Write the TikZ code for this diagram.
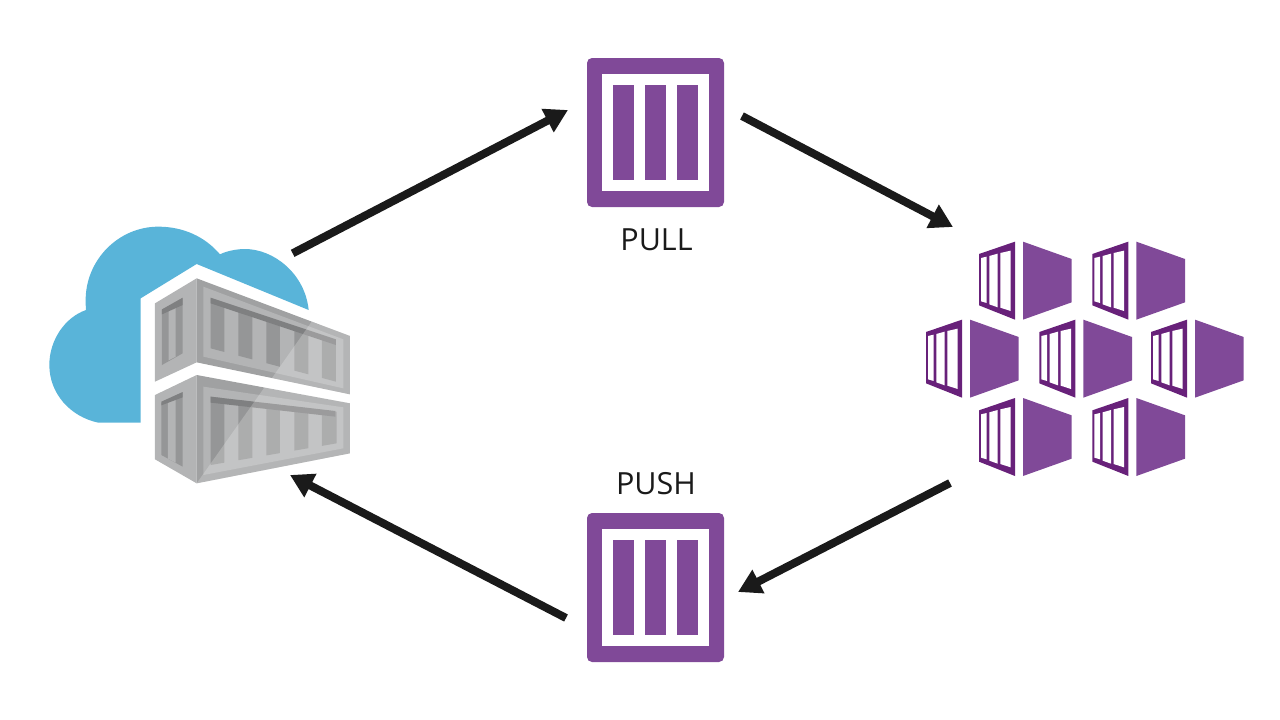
\documentclass[tikz,border=0pt]{standalone}
\usepackage{fontspec}
\setmainfont{Open Sans}
\usetikzlibrary{arrows.meta}
\definecolor{iconpurple}{HTML}{804998}
\definecolor{darkpurple}{HTML}{68217A}
\definecolor{cloudblue}{HTML}{59B4D9}
\definecolor{arrowblack}{HTML}{1A1A1A}
\definecolor{greyA}{HTML}{A0A1A2}
\definecolor{greyB}{HTML}{B3B4B5}
\definecolor{greyC}{HTML}{959697}
\definecolor{greyD}{HTML}{7F8081}
\tikzset{
  flow/.style={draw=arrowblack,line width=8pt,-{Triangle[length=23pt,width=25pt]}},
  caption/.style={inner sep=0pt,anchor=base,text=arrowblack,font=\fontsize{30.5}{31}\selectfont},
  boxframe/.style={fill=iconpurple,rounded corners=5pt,inner sep=0pt,minimum width=137pt,minimum height=149pt},
  boxwindow/.style={fill=white,inner sep=0pt,minimum width=106.4pt,minimum height=116.7pt},
  boxbar/.style={fill=iconpurple,inner sep=0pt,minimum width=21.3pt,minimum height=95.3pt},
  pics/registrybox/.style={code={
    \node[boxframe] (-frame) at (0,0) {};
    \node[boxwindow] (-win) at (0,0) {};
    \node[boxbar] (-b1) at (-32,0) {};
    \node[boxbar] (-b2) at (0,0) {};
    \node[boxbar] (-b3) at (32,0) {};
  }},
  pics/pod/.style={code={
    \fill[darkpurple] (177,57) -- (285,20) -- (285,254) -- (177,211) -- cycle;
    \fill[white] (183,69) -- (200,65) -- (200,204) -- (183,199) -- cycle;
    \fill[white] (208,63) -- (233,56) -- (233,217) -- (208,208) -- cycle;
    \fill[white] (241,54) -- (272,47) -- (272,228) -- (241,218) -- cycle;
    \fill[iconpurple] (309,20) -- (455,72) -- (455,202) -- (309,254) -- cycle;
  }},
}
\begin{document}
\begin{tikzpicture}[x=1pt,y=-1pt]
\useasboundingbox (0,0) rectangle (1280,720);
% cloud + containers, in a 3x local grid
\begin{scope}[shift={(40,220)},x=0.33333pt,y=-0.33333pt]
  \fill[cloudblue] (302,608) -- (302,235) -- (470,132) -- (806,270)
    .. controls (795,160) and (700,87) .. (615,87)
    .. controls (590,87) and (560,93) .. (540,103)
    .. controls (495,50) and (430,20) .. (355,20)
    .. controls (235,20) and (137,120) .. (137,240)
    .. controls (137,250) and (137,260) .. (138,270)
    .. controls (75,292) and (28,360) .. (28,435)
    .. controls (28,520) and (90,590) .. (175,608) -- cycle;
  % top container
  \fill[greyB] (345,250) -- (470,175) -- (470,427) -- (345,485) -- cycle;
  \fill[greyC] (366,270) -- (428,235) -- (428,400) -- (366,435) -- cycle;
  \fill[greyB] (386,272) -- (407,260) -- (407,410) -- (386,421) -- cycle;
  \fill[greyD] (366,268) -- (428,233) -- (428,255) -- (366,283) -- cycle;
  \fill[greyA] (470,175) -- (930,348) -- (930,523) -- (470,427) -- cycle;
  \fill[greyB] (490,200) -- (910,358) -- (910,505) -- (490,410) -- cycle;
  \foreach \a/\b in {512/553,595/637,679/720,763/805,846/888}{
    \pgfmathsetmacro\ta{235+(\a-512)*0.332}
    \pgfmathsetmacro\tb{235+(\b-512)*0.332}
    \pgfmathsetmacro\ba{385+(\a-512)*0.266}
    \pgfmathsetmacro\bb{385+(\b-512)*0.266}
    \fill[greyC] (\a,\ta) -- (\b,\tb) -- (\b,\bb) -- (\a,\ba) -- cycle;
  }
  \fill[greyD] (512,233) -- (888,358) -- (888,375) -- (512,250) -- cycle;
  % bottom container
  \fill[greyB] (345,525) -- (470,465) -- (470,790) -- (345,718) -- cycle;
  \fill[greyC] (364,550) -- (428,517) -- (428,740) -- (364,705) -- cycle;
  \fill[greyB] (384,548) -- (407,536) -- (407,728) -- (384,716) -- cycle;
  \fill[greyD] (364,545) -- (428,516) -- (428,532) -- (364,556) -- cycle;
  \fill[greyA] (470,465) -- (930,550) -- (930,700) -- (470,790) -- cycle;
  \fill[greyB] (490,500) -- (910,562) -- (910,685) -- (490,765) -- cycle;
  \foreach \a/\b in {512/553,595/637,679/720,763/805,846/890}{
    \pgfmathsetmacro\ta{530+(\a-512)*0.12}
    \pgfmathsetmacro\tb{530+(\b-512)*0.12}
    \pgfmathsetmacro\ba{735-(\a-512)*0.172}
    \pgfmathsetmacro\bb{735-(\b-512)*0.172}
    \fill[greyC] (\a,\ta) -- (\b,\tb) -- (\b,\bb) -- (\a,\ba) -- cycle;
  }
  \fill[greyD] (512,530) -- (886,573) -- (886,590) -- (512,548) -- cycle;
  % glass highlight
  \fill[white,opacity=0.22] (815,305) -- (930,348) -- (930,523) -- (696,474) -- cycle;
  \fill[white,opacity=0.22] (675,500) -- (930,550) -- (930,700) -- (470,790) -- cycle;
  \coordinate (regout) at (758,100);
  \coordinate (regin) at (750,765);
\end{scope}
% registry boxes
\pic (pull) at (655.5,132.5) {registrybox};
\pic (push) at (655.5,587.5) {registrybox};
\node[caption] (pulltext) at (656.5,250) {PULL};
\node[caption] (pushtext) at (656,494.3) {PUSH};
% pods
\begin{scope}[shift={(920,235)},x=0.33333pt,y=-0.33333pt]
  \pic at (0,0) {pod};
  \pic at (340,0) {pod};
  \pic at (-159,234) {pod};
  \pic at (181,234) {pod};
  \pic at (516,234) {pod};
  \pic at (0,469) {pod};
  \pic at (340,469) {pod};
\end{scope}
% connector ends
\coordinate (pullin) at (568,110);
\coordinate (pullout) at (742,116);
\coordinate (podsin) at (953,227);
\coordinate (podsout) at (950,483);
\coordinate (pushin) at (738,592);
\coordinate (pushout) at (566,618);
\draw[flow] (regout) -- (pullin);
\draw[flow] (pullout) -- (podsin);
\draw[flow] (podsout) -- (pushin);
\draw[flow] (pushout) -- (regin);
\end{tikzpicture}
\end{document}
